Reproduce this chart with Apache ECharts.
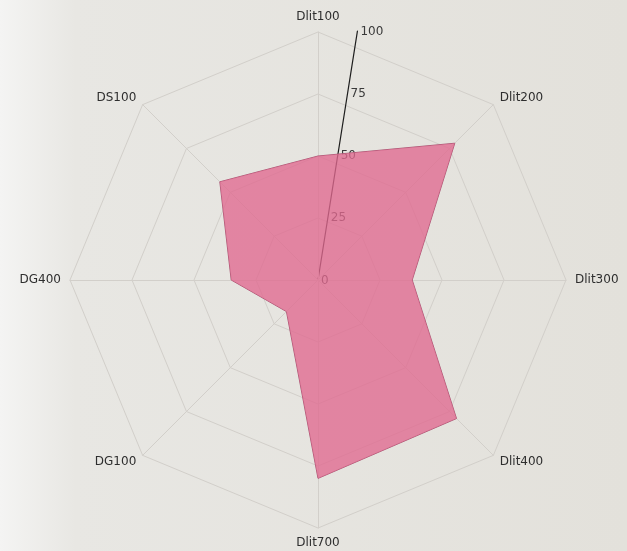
<!DOCTYPE html>
<html>
<head>
<meta charset="utf-8">
<script src="https://cdn.jsdelivr.net/npm/echarts@6/dist/echarts.min.js"></script>
<style>
  html, body { margin: 0; padding: 0; }
  #chart { width: 627px; height: 551px; }
</style>
</head>
<body>
<div id="chart"></div>
<script>
// axes in clockwise order starting from the top
const categories = ["Dlit100", "Dlit200", "Dlit300", "Dlit400", "Dlit700", "DG100", "DG400", "DS100"];
const values = [50, 78, 38, 79, 80, 18, 35, 56];
const axisMax = 100;
const tickStep = 25;

// echarts lays radar indicators out counter-clockwise, so flip the order after the first one
const order = [0].concat(categories.map((c, i) => i).slice(1).reverse());
const indicators = order.map(i => ({ name: categories[i], max: axisMax, min: 0 }));
const seriesValues = order.map(i => values[i]);

const chart = echarts.init(document.getElementById("chart"));
const center = [318, 280];

const option = {
  backgroundColor: new echarts.graphic.LinearGradient(0, 0, 1, 0, [
    { offset: 0, color: "#f4f4f3" },
    { offset: 0.12, color: "#e8e7e3" },
    { offset: 1, color: "#e3e1db" }
  ]),
  radar: {
    center: center,
    radius: 248,
    startAngle: 90,
    shape: "polygon",
    splitNumber: 4,
    indicator: indicators,
    axisName: {
      color: "#2e2e2e",
      fontSize: 12,
      fontFamily: "DejaVu Sans"
    },
    nameGap: 9,
    axisLine: { lineStyle: { color: "#d2cfca", width: 1 } },
    splitLine: { lineStyle: { color: "#d2cfca", width: 1 } },
    splitArea: { show: false },
    axisLabel: { show: false },
    axisTick: { show: false }
  },
  polar: {
    center: center,
    radius: 252
  },
  angleAxis: {
    startAngle: 81,
    min: 0,
    max: 360,
    axisLine: { show: false },
    axisTick: { show: false },
    axisLabel: { show: false },
    splitLine: { show: false }
  },
  radiusAxis: {
    min: 0,
    max: axisMax,
    interval: tickStep,
    z: 0,
    axisLine: { lineStyle: { color: "#1e1e1e", width: 1.2 } },
    axisTick: { show: false },
    splitLine: { show: false },
    axisLabel: {
      color: "#3a3a3a",
      fontSize: 12,
      fontFamily: "DejaVu Sans",
      margin: -3,
      align: "left"
    }
  },
  series: [
    {
      type: "radar",
      z: 3,
      symbol: "none",
      data: [{ value: seriesValues }],
      lineStyle: { color: "#a85a75", width: 1 },
      areaStyle: { color: "#e0698f", opacity: 0.78 }
    }
  ]
};

chart.setOption(option);
</script>
</body>
</html>
